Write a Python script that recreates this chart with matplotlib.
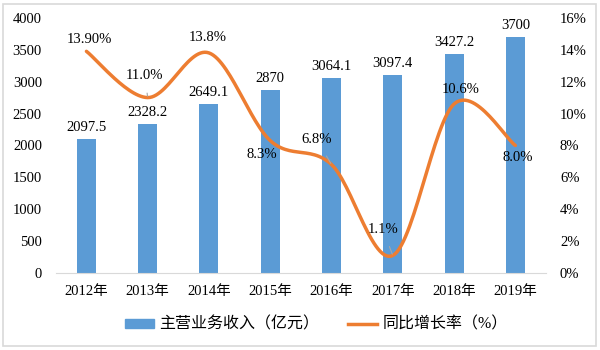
import numpy as np
import matplotlib
matplotlib.use("Agg")
import matplotlib.pyplot as plt
from matplotlib.patches import Rectangle, Patch
from matplotlib.lines import Line2D

plt.rcParams['font.family'] = ['Liberation Serif', 'Noto Sans CJK SC']
plt.rcParams['font.size'] = 10.5

years = ["2012年", "2013年", "2014年", "2015年", "2016年", "2017年", "2018年", "2019年"]
revenue = [2097.5, 2328.2, 2649.1, 2870, 3064.1, 3097.4, 3427.2, 3700]
revenue_labels = ["2097.5", "2328.2", "2649.1", "2870", "3064.1", "3097.4", "3427.2", "3700"]
growth = [13.9, 11.0, 13.8, 8.3, 6.8, 1.1, 10.6, 8.0]
growth_labels = ["13.90%", "11.0%", "13.8%", "8.3%", "6.8%", "1.1%", "10.6%", "8.0%"]

# label offsets in pixels (dx, dy) and whether a leader line is drawn
growth_offsets = [(3, 12), (-3, 22), (-1, 15), (-8, -14), (-15, 25), (-10, 26), (7, 14), (2, -12)]
leader = [False, True, False, False, True, True, False, False]

bar_color = "#5B9BD5"
line_color = "#ED7D31"


def smooth(xs, ys, n=30):
    # Catmull-Rom style bezier, like Excel's smoothed line
    xs = np.asarray(xs, float)
    ys = np.asarray(ys, float)
    pts = np.column_stack([xs, ys])
    out = []
    for i in range(len(pts) - 1):
        p0 = pts[i - 1] if i > 0 else pts[i]
        p1 = pts[i]
        p2 = pts[i + 1]
        p3 = pts[i + 2] if i + 2 < len(pts) else pts[i + 1]
        c1 = p1 + (p2 - p0) / 6
        c2 = p2 - (p3 - p1) / 6
        t = np.linspace(0, 1, n)[:, None]
        seg = ((1 - t) ** 3) * p1 + 3 * ((1 - t) ** 2) * t * c1 + 3 * (1 - t) * t ** 2 * c2 + t ** 3 * p2
        out.append(seg if i == 0 else seg[1:])
    seg = np.vstack(out)
    return seg[:, 0], seg[:, 1]


fig = plt.figure(figsize=(6, 3.5), dpi=100)
ax = fig.add_axes([0.093, 0.22, 0.817, 0.729])
x = np.arange(len(years))

ax.bar(x, revenue, width=0.31, color=bar_color, zorder=2)
for xi, v, lab in zip(x, revenue, revenue_labels):
    ax.annotate(lab, (xi, v), xytext=(0, 5), textcoords="offset pixels",
                ha="center", va="bottom")

ax.set_xlim(-0.5, len(years) - 0.5)
ax.set_ylim(0, 4000)
ax.set_yticks(range(0, 4001, 500))
ax.set_xticks(x)
ax.set_xticklabels(years)
ax.tick_params(axis="both", length=0)
ax.tick_params(axis="y", pad=10)
ax.tick_params(axis="x", pad=9)
for s in ["top", "right", "left"]:
    ax.spines[s].set_visible(False)
ax.spines["bottom"].set_color("#D9D9D9")

ax2 = ax.twinx()
sx, sy = smooth(x, growth)
ax2.plot(sx, sy, color=line_color, lw=2.5, solid_capstyle="round", zorder=3)
ax2.set_ylim(0, 16)
ax2.set_yticks(range(0, 17, 2))
ax2.set_yticklabels([f"{v}%" for v in range(0, 17, 2)])
ax2.tick_params(axis="y", length=0, pad=10)
for s in ["top", "right", "left", "bottom"]:
    ax2.spines[s].set_visible(False)

for xi, v, lab, (dx, dy), ld in zip(x, growth, growth_labels, growth_offsets, leader):
    props = dict(arrowstyle="-", color="#A6A6A6", lw=0.8, shrinkA=6, shrinkB=1) if ld else None
    ax2.annotate(lab, (xi, v), xytext=(dx, dy), textcoords="offset pixels",
                 ha="center", va="center", arrowprops=props)

handles = [Patch(color=bar_color), Line2D([], [], color=line_color, lw=2.5)]
fig.legend(handles, ["主营业务收入（亿元）", "同比增长率（%）"], loc="center",
           bbox_to_anchor=(0.527, 0.072), ncol=2, frameon=False, fontsize=11.5,
           handlelength=1.8, handleheight=0.5, columnspacing=1.8, handletextpad=0.35)

fig.patches.append(Rectangle((0.005, 0.012), 0.989, 0.978, transform=fig.transFigure,
                             fill=False, edgecolor="#D9D9D9", lw=1.2))

fig.savefig("out.png", dpi=100)
